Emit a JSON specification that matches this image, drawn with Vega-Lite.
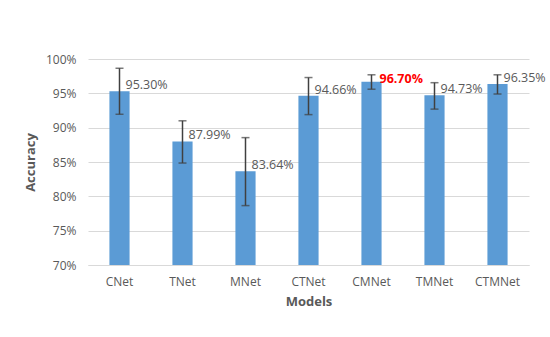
{
  "$schema": "https://vega.github.io/schema/vega-lite/v6.json",
  "width": 441,
  "height": 206,
  "autosize": {"type": "none"},
  "padding": {"left": 88, "top": 59, "right": 21, "bottom": 72},
  "background": "white",
  "config": {
    "font": "Open Sans",
    "view": {"stroke": null},
    "axis": {"labelFont": "Open Sans", "titleFont": "Open Sans", "labelColor": "#595959", "titleColor": "#595959", "ticks": false}
  },
  "data": {
    "values": [
      {"model": "CNet", "acc": 0.9530, "lo": 0.9195, "hi": 0.9865},
      {"model": "TNet", "acc": 0.8799, "lo": 0.8485, "hi": 0.9100},
      {"model": "MNet", "acc": 0.8364, "lo": 0.7865, "hi": 0.8855},
      {"model": "CTNet", "acc": 0.9466, "lo": 0.9190, "hi": 0.9730},
      {"model": "CMNet", "acc": 0.9670, "lo": 0.9560, "hi": 0.9770},
      {"model": "TMNet", "acc": 0.9473, "lo": 0.9270, "hi": 0.9655},
      {"model": "CTMNet", "acc": 0.9635, "lo": 0.9490, "hi": 0.9770}
    ]
  },
  "encoding": {
    "x": {
      "field": "model", "type": "nominal", "sort": null,
      "scale": {"paddingInner": 0.68, "paddingOuter": 0.34},
      "axis": {"title": "Models", "labelAngle": 0, "labelFontSize": 12, "labelPadding": 11, "titleFontSize": 13, "titleFontWeight": "bold", "titlePadding": 8, "domainColor": "#d9d9d9", "domainWidth": 1}
    }
  },
  "layer": [
    {
      "mark": {"type": "bar", "color": "#5b9bd5", "clip": true},
      "encoding": {
        "y": {
          "field": "acc", "type": "quantitative",
          "scale": {"domain": [0.7, 1.0], "nice": false, "zero": false},
          "axis": {"title": "Accuracy", "format": ".0%", "tickCount": 7, "values": [0.7, 0.75, 0.8, 0.85, 0.9, 0.95, 1.0], "labelFontSize": 12, "labelPadding": 12, "titleFontSize": 13, "titleFontWeight": "bold", "titlePadding": 8, "domain": false, "gridColor": "#d9d9d9", "gridWidth": 1}
        }
      }
    },
    {
      "mark": {"type": "rule", "color": "#404040", "strokeWidth": 1.5},
      "encoding": {"y": {"field": "lo", "type": "quantitative"}, "y2": {"field": "hi"}}
    },
    {
      "mark": {"type": "tick", "color": "#404040", "size": 8, "thickness": 1.5},
      "encoding": {"y": {"field": "lo", "type": "quantitative"}}
    },
    {
      "mark": {"type": "tick", "color": "#404040", "size": 8, "thickness": 1.5},
      "encoding": {"y": {"field": "hi", "type": "quantitative"}}
    },
    {
      "transform": [{"filter": "datum.model !== 'CMNet'"}],
      "mark": {"type": "text", "align": "left", "baseline": "middle", "dx": 6, "dy": -6, "fontSize": 12.5, "color": "#595959"},
      "encoding": {"y": {"field": "acc", "type": "quantitative"}, "text": {"field": "acc", "type": "quantitative", "format": ".2%"}}
    },
    {
      "transform": [{"filter": "datum.model === 'CMNet'"}],
      "mark": {"type": "text", "align": "left", "baseline": "middle", "dx": 8, "dy": -3, "fontSize": 12.5, "fontWeight": "bold", "color": "#ff0000"},
      "encoding": {"y": {"field": "acc", "type": "quantitative"}, "text": {"field": "acc", "type": "quantitative", "format": ".2%"}}
    }
  ]
}
